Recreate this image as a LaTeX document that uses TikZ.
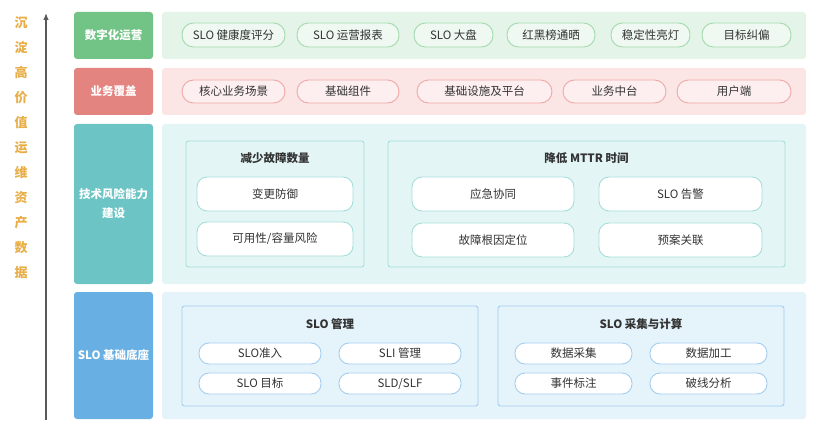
\documentclass[tikz,border=0pt]{standalone}
\usepackage{fontspec}
\setmainfont{Noto Sans CJK SC}
\usetikzlibrary{arrows.meta}
\definecolor{gLab}{HTML}{72C386}
\definecolor{gBg}{HTML}{E5F4E8}
\definecolor{gBd}{HTML}{A2DBAE}
\definecolor{rLab}{HTML}{E48480}
\definecolor{rBg}{HTML}{FCE5E5}
\definecolor{rBd}{HTML}{F0A8A8}
\definecolor{tLab}{HTML}{6CC5C4}
\definecolor{tBg}{HTML}{E3F5F5}
\definecolor{tBd}{HTML}{A5DEDD}
\definecolor{bLab}{HTML}{68AFE3}
\definecolor{bBg}{HTML}{E5F3FB}
\definecolor{bBd}{HTML}{A3CEF0}
\definecolor{goldtxt}{HTML}{E8AE48}
\definecolor{txt}{HTML}{333333}
\tikzset{
  lab/.style={rectangle, rounded corners=3pt, inner sep=0pt, text=white, font=\fontsize{11.5}{15}\selectfont\bfseries, align=center},
  band/.style={rectangle, rounded corners=3pt, inner sep=0pt},
  pill/.style={rectangle, rounded corners=11.5pt, inner sep=0pt, line width=0.9pt, text=txt, font=\fontsize{11.5}{14}\selectfont},
  inbox/.style={rectangle, rounded corners=2.5pt, inner sep=0pt, line width=0.9pt},
  ttl/.style={inner sep=0pt, text=txt, font=\fontsize{11.5}{14}\selectfont\bfseries},
  rbox/.style={rectangle, rounded corners=10pt, inner sep=0pt, line width=0.9pt, fill=white, draw=tBd, text=txt, font=\fontsize{11.5}{14}\selectfont},
  spill/.style={rectangle, rounded corners=10pt, inner sep=0pt, line width=0.9pt, fill=white, draw=bBd, text=txt, font=\fontsize{11.5}{14}\selectfont},
  vtxt/.style={inner sep=0pt, text=goldtxt, font=\fontsize{13}{15}\selectfont\bfseries}
}
\begin{document}
\begin{tikzpicture}[x=1pt,y=-1pt]
\useasboundingbox (0,0) rectangle (816,430);
% vertical arrow and text
\coordinate (abot) at (46,420);
\coordinate (atop) at (46,13);
\draw[line width=1.2pt, color=black!65, -{Latex[length=7pt,width=5.5pt]}] (abot) -- (atop);
\foreach \ch [count=\i from 0] in {沉,淀,高,价,值,运,维,资,产,数,据}{
  \node[vtxt] (v\i) at (21,{23+25*\i}) {\ch};
}
% Row 1
\node[lab, fill=gLab, minimum width=79pt, minimum height=47pt] (l1) at (113.5,35.5) {数字化运营};
\node[band, fill=gBg, minimum width=644pt, minimum height=47pt] (b1) at (484,35.5) {};
\tikzset{gp/.style={pill, draw=gBd, fill=gBg!60!white, minimum height=24pt}}
\node[gp, minimum width=103pt] (p11) at (233.5,35) {SLO 健康度评分};
\node[gp, minimum width=102pt] (p12) at (348,35) {SLO 运营报表};
\node[gp, minimum width=79pt] (p13) at (453.5,35) {SLO 大盘};
\node[gp, minimum width=88pt] (p14) at (551,35) {红黑榜通晒};
\node[gp, minimum width=79pt] (p15) at (650.5,35) {稳定性亮灯};
\node[gp, minimum width=89pt] (p16) at (746.5,35) {目标纠偏};
% Row 2
\node[lab, fill=rLab, minimum width=79pt, minimum height=47pt] (l2) at (113.5,91.5) {业务覆盖};
\node[band, fill=rBg, minimum width=644pt, minimum height=47pt] (b2) at (484,91.5) {};
\tikzset{rp/.style={pill, draw=rBd, fill=rBg!60!white, minimum height=23pt}}
\node[rp, minimum width=103pt] (p21) at (233.5,91.5) {核心业务场景};
\node[rp, minimum width=102pt] (p22) at (348,91.5) {基础组件};
\node[rp, minimum width=135pt] (p23) at (484.5,91.5) {基础设施及平台};
\node[rp, minimum width=103pt] (p24) at (614.5,91.5) {业务中台};
\node[rp, minimum width=114pt] (p25) at (734,91.5) {用户端};
% Row 3
\node[lab, fill=tLab, minimum width=79pt, minimum height=160pt] (l3) at (113.5,204) {技术风险能力\\[4pt]建设};
\node[band, fill=tBg, minimum width=644pt, minimum height=160pt] (b3) at (484,204) {};
\node[inbox, draw=tBd, fill=tBg, minimum width=178pt, minimum height=126pt] (i31) at (275,204) {};
\node[inbox, draw=tBd, fill=tBg, minimum width=397pt, minimum height=126pt] (i32) at (586.5,204) {};
\node[ttl] (t31) at (275,158) {减少故障数量};
\node[ttl] (t32) at (586.5,158) {降低 MTTR 时间};
\node[rbox, minimum width=156pt, minimum height=34pt] (r1) at (275,194) {变更防御};
\node[rbox, minimum width=156pt, minimum height=34pt] (r2) at (275,239) {可用性/容量风险};
\node[rbox, minimum width=162pt, minimum height=34pt] (r3) at (493,194) {应急协同};
\node[rbox, minimum width=163pt, minimum height=34pt] (r4) at (680.5,194) {SLO 告警};
\node[rbox, minimum width=162pt, minimum height=34pt] (r5) at (493,240) {故障根因定位};
\node[rbox, minimum width=163pt, minimum height=34pt] (r6) at (680.5,240) {预案关联};
% Row 4
\node[lab, fill=bLab, minimum width=79pt, minimum height=127pt] (l4) at (113.5,355.5) {SLO 基础底座};
\node[band, fill=bBg, minimum width=644pt, minimum height=127pt] (b4) at (484,355.5) {};
\node[inbox, draw=bBd, fill=bBg, minimum width=296pt, minimum height=100pt] (i41) at (330,356) {};
\node[inbox, draw=bBd, fill=bBg, minimum width=286pt, minimum height=100pt] (i42) at (641,356) {};
\node[ttl] (t41) at (330,324) {SLO 管理};
\node[ttl] (t42) at (641,324) {SLO 采集与计算};
\node[spill, minimum width=122pt, minimum height=21pt] (s1) at (260,353.5) {SLO准入};
\node[spill, minimum width=122pt, minimum height=21pt] (s2) at (400,353.5) {SLI 管理};
\node[spill, minimum width=122pt, minimum height=21pt] (s3) at (260,383.5) {SLO 目标};
\node[spill, minimum width=122pt, minimum height=21pt] (s4) at (400,383.5) {SLD/SLF};
\node[spill, minimum width=117pt, minimum height=21pt] (s5) at (573.5,353.5) {数据采集};
\node[spill, minimum width=117pt, minimum height=21pt] (s6) at (708.5,353.5) {数据加工};
\node[spill, minimum width=117pt, minimum height=21pt] (s7) at (573.5,383.5) {事件标注};
\node[spill, minimum width=117pt, minimum height=21pt] (s8) at (708.5,383.5) {破线分析};
\end{tikzpicture}
\end{document}
